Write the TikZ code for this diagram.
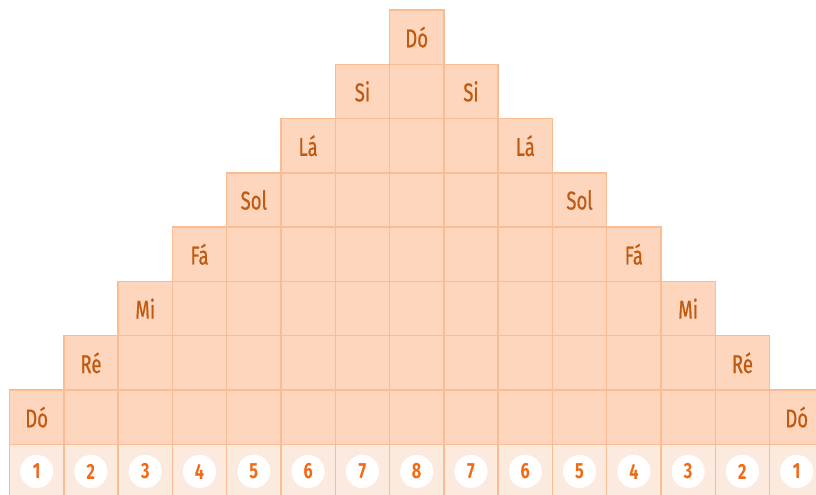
\documentclass[tikz,border=0pt]{standalone}
\usepackage{fontspec}
\setmainfont{Fira Sans}[FakeStretch=0.74]
\newfontfamily\notefont{Fira Sans}[FakeStretch=0.72, FakeBold=0.6]
\usetikzlibrary{positioning}
\definecolor{cellfill}{RGB}{253,214,189}
\definecolor{celledge}{RGB}{250,188,146}
\definecolor{numfill}{RGB}{253,234,222}
\definecolor{notecol}{RGB}{192,90,16}
\definecolor{numcol}{RGB}{242,106,22}
\tikzset{
  cell/.style={fill=cellfill, draw=celledge, line width=0.75pt},
  numcell/.style={fill=numfill, draw=celledge, line width=0.75pt},
  note/.style={font=\notefont\fontsize{13.5}{14}\selectfont, text=notecol, inner sep=0pt},
  numdot/.style={circle, fill=white, minimum size=0.61cm, inner sep=0pt,
                 font=\fontsize{11.5}{12}\selectfont\bfseries, text=numcol}
}

\begin{document}
\begin{tikzpicture}[x=1cm,y=1cm]
\useasboundingbox (-0.175,0.068) rectangle (14.855,9.184);

% ── Number row ───────────────────────────────────────────────────────────────
\foreach \c in {0,...,14} {
  \pgfmathtruncatemacro\n{8-abs(\c-7)}
  \draw[numcell] (\c,0) rectangle (\c+1,1);
  \node[numdot] (num-\c) at (\c+0.5,0.5) {\n};
}

% ── Pyramid of cells ─────────────────────────────────────────────────────────
\foreach \r in {1,...,8} {
  \pgfmathtruncatemacro\first{\r-1}
  \pgfmathtruncatemacro\last{15-\r}
  \foreach \c in {\first,...,\last} {
    \draw[cell] (\c,\r) rectangle (\c+1,\r+1);
  }
}

% ── Note names on both flanks ────────────────────────────────────────────────
\foreach \r/\lbl in {1/Dó, 2/Ré, 3/Mi, 4/Fá, 5/Sol, 6/Lá, 7/Si} {
  \node[note] (left-\r)  at (\r-0.5,\r+0.5)  {\lbl};
  \node[note] (right-\r) at (15.5-\r,\r+0.5) {\lbl};
}
\node[note] (top) at (7.5,8.5) {Dó};

\end{tikzpicture}
\end{document}
